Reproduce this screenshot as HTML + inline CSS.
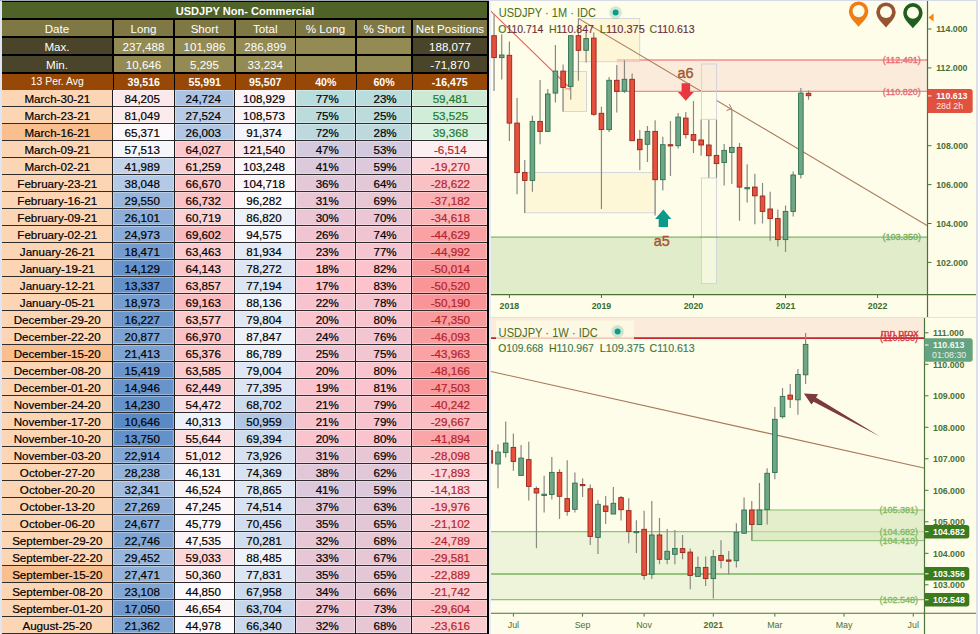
<!DOCTYPE html>
<html><head><meta charset="utf-8"><title>USDJPY COT</title>
<style>
html,body{margin:0;padding:0}
body{width:980px;height:634px;overflow:hidden;background:#dfe5f3;position:relative;font-family:"Liberation Sans", sans-serif}
.abs{position:absolute;box-sizing:border-box;white-space:nowrap;overflow:hidden}
#tbl{position:absolute;left:0;top:0;width:490px;height:634px}
.ttl{color:#fff;font-weight:bold;font-size:11.05px;text-align:center}
.hc{color:#fff;font-size:11.6px;text-align:center}
.ac{color:#fff;font-size:10.6px;font-weight:bold;text-align:center}
.ac0{font-weight:normal;font-size:10.4px}
.dd{font-size:11.8px}
.cc{box-shadow:inset 0 0 0 1.1px rgba(255,255,255,0.32)}
.dc{color:#000;font-size:11.6px;text-align:center;-webkit-text-stroke:0.2px}
.pos{color:#1c7a33}
.neg{color:#b3242c}
svg text{font-family:"Liberation Sans", sans-serif}
.ttl1{font-size:12.7px}
.ohlc{font-size:10.4px;stroke-width:0.15px}
.axl{font-size:8.8px;font-weight:bold}
.axl2{font-size:8.8px}
.lvl{font-size:9px;stroke-width:0.3px}
.tlb{font-size:8.8px;font-weight:bold}
.tlr{font-size:8.9px}
.ann{font-size:14.4px;fill:#a0552f;stroke:#a0552f;stroke-width:0.35px}
</style></head><body>
<div class="abs" style="left:0;top:0;width:490px;height:1px;background:#a4a9ba"></div>
<div class="abs" style="left:490px;top:0;width:488px;height:1px;background:#d5d9e8"></div>
<div class="abs" style="left:489px;top:0;width:2px;height:634px;background:#e6ebf7"></div>
<div id="tbl">
<div class="abs" style="left:1.8px;top:1px;width:487.2px;height:89px;background:#000"></div>
<div class="abs" style="left:2px;top:2px;width:485px;height:16px;background:#4f6228"></div>
<div class="abs ttl" style="left:2px;top:2px;width:486px;height:16px;line-height:18px">USDJPY Non- Commercial</div>
<div class="abs hc" style="left:2px;top:20px;width:110px;height:16px;line-height:17.2px;background:#7f7845">Date</div>
<div class="abs hc" style="left:114px;top:20px;width:59px;height:16px;line-height:17.2px;background:#7f7845">Long</div>
<div class="abs hc" style="left:175px;top:20px;width:59px;height:16px;line-height:17.2px;background:#7f7845">Short</div>
<div class="abs hc" style="left:236px;top:20px;width:58.5px;height:16px;line-height:17.2px;background:#7f7845">Total</div>
<div class="abs hc" style="left:296px;top:20px;width:59px;height:16px;line-height:17.2px;background:#7f7845">% Long</div>
<div class="abs hc" style="left:357px;top:20px;width:54px;height:16px;line-height:17.2px;background:#7f7845">% Short</div>
<div class="abs hc" style="left:413px;top:20px;width:74px;height:16px;line-height:17.2px;background:#7f7845">Net Positions</div>
<div class="abs hc" style="left:2px;top:38px;width:110px;height:16px;line-height:17.2px;background:#4a452a">Max.</div>
<div class="abs hc" style="left:114px;top:38px;width:59px;height:16px;line-height:17.2px;background:#948a54">237,488</div>
<div class="abs hc" style="left:175px;top:38px;width:59px;height:16px;line-height:17.2px;background:#948a54">101,986</div>
<div class="abs hc" style="left:236px;top:38px;width:58.5px;height:16px;line-height:17.2px;background:#948a54">286,899</div>
<div class="abs hc" style="left:296px;top:38px;width:59px;height:16px;line-height:17.2px;background:#948a54"></div>
<div class="abs hc" style="left:357px;top:38px;width:54px;height:16px;line-height:17.2px;background:#948a54"></div>
<div class="abs hc" style="left:413px;top:38px;width:74px;height:16px;line-height:17.2px;background:#4a452a">188,077</div>
<div class="abs hc" style="left:2px;top:56px;width:110px;height:16px;line-height:17.2px;background:#4a452a">Min.</div>
<div class="abs hc" style="left:114px;top:56px;width:59px;height:16px;line-height:17.2px;background:#948a54">10,646</div>
<div class="abs hc" style="left:175px;top:56px;width:59px;height:16px;line-height:17.2px;background:#948a54">5,295</div>
<div class="abs hc" style="left:236px;top:56px;width:58.5px;height:16px;line-height:17.2px;background:#948a54">33,234</div>
<div class="abs hc" style="left:296px;top:56px;width:59px;height:16px;line-height:17.2px;background:#948a54"></div>
<div class="abs hc" style="left:357px;top:56px;width:54px;height:16px;line-height:17.2px;background:#948a54"></div>
<div class="abs hc" style="left:413px;top:56px;width:74px;height:16px;line-height:17.2px;background:#4a452a">-71,870</div>
<div class="abs ac ac0" style="left:2px;top:73.5px;width:110.5px;height:16px;line-height:16px;background:#974706">13 Per. Avg</div>
<div class="abs ac" style="left:113.5px;top:73.5px;width:60.5px;height:16px;line-height:16px;background:#974706">39,516</div>
<div class="abs ac" style="left:175px;top:73.5px;width:59.5px;height:16px;line-height:16px;background:#974706">55,991</div>
<div class="abs ac" style="left:235.5px;top:73.5px;width:59.5px;height:16px;line-height:16px;background:#974706">95,507</div>
<div class="abs ac" style="left:296px;top:73.5px;width:59.5px;height:16px;line-height:16px;background:#974706">40%</div>
<div class="abs ac" style="left:356.5px;top:73.5px;width:55px;height:16px;line-height:16px;background:#974706">60%</div>
<div class="abs ac" style="left:412.5px;top:73.5px;width:74.5px;height:16px;line-height:16px;background:#974706">-16,475</div>
<div class="abs" style="left:2px;top:89.5px;width:485px;height:544.5px;background:#fff"></div>
<div class="abs dc dd" style="left:2px;top:89.7px;width:110.5px;height:16.3px;line-height:18.6px;background:#fcd5b4">March-30-21</div>
<div class="abs cc dc" style="left:113.4px;top:90.3px;width:60.5px;height:15.6px;line-height:18.2px;padding-right:2.8px;background:#fbe8eb">84,205</div>
<div class="abs cc dc" style="left:174.9px;top:90.3px;width:59.5px;height:15.6px;line-height:18.2px;padding-right:2.8px;background:#abc3e3">24,724</div>
<div class="abs cc dc" style="left:235.4px;top:90.3px;width:59.5px;height:15.6px;line-height:18.2px;padding-right:2.4px;background:#fcf3f6">108,929</div>
<div class="abs cc dc" style="left:295.9px;top:90.3px;width:59.5px;height:15.6px;line-height:18.2px;padding-left:3.2px;background:#b9dcdc">77%</div>
<div class="abs cc dc" style="left:356.4px;top:90.3px;width:55px;height:15.6px;line-height:18.2px;padding-left:2.4px;background:#b9dcdc">23%</div>
<div class="abs cc dc pos" style="left:412.4px;top:90.3px;width:74.8px;height:15.6px;line-height:18.2px;padding-left:1.2px;background:#ccead3">59,481</div>
<div class="abs" style="left:2px;top:105.5px;width:485px;height:1.3px;background:#2e2c2c"></div>
<div class="abs dc dd" style="left:2px;top:106.7px;width:110.5px;height:16.3px;line-height:18.6px;background:#fcd5b4">March-23-21</div>
<div class="abs cc dc" style="left:113.4px;top:107.3px;width:60.5px;height:15.6px;line-height:18.2px;padding-right:2.8px;background:#fcebed">81,049</div>
<div class="abs cc dc" style="left:174.9px;top:107.3px;width:59.5px;height:15.6px;line-height:18.2px;padding-right:2.8px;background:#b7cbe7">27,524</div>
<div class="abs cc dc" style="left:235.4px;top:107.3px;width:59.5px;height:15.6px;line-height:18.2px;padding-right:2.4px;background:#fcf3f6">108,573</div>
<div class="abs cc dc" style="left:295.9px;top:107.3px;width:59.5px;height:15.6px;line-height:18.2px;padding-left:3.2px;background:#bbdbdc">75%</div>
<div class="abs cc dc" style="left:356.4px;top:107.3px;width:55px;height:15.6px;line-height:18.2px;padding-left:2.4px;background:#bbdbdc">25%</div>
<div class="abs cc dc pos" style="left:412.4px;top:107.3px;width:74.8px;height:15.6px;line-height:18.2px;padding-left:1.2px;background:#d0edd7">53,525</div>
<div class="abs" style="left:2px;top:122.5px;width:485px;height:1.3px;background:#2e2c2c"></div>
<div class="abs dc dd" style="left:2px;top:123.7px;width:110.5px;height:16.3px;line-height:18.6px;background:#fabf8f">March-16-21</div>
<div class="abs cc dc" style="left:113.4px;top:124.3px;width:60.5px;height:15.6px;line-height:18.2px;padding-right:2.8px;background:#fcf8fb">65,371</div>
<div class="abs cc dc" style="left:174.9px;top:124.3px;width:59.5px;height:15.6px;line-height:18.2px;padding-right:2.8px;background:#b1c7e4">26,003</div>
<div class="abs cc dc" style="left:235.4px;top:124.3px;width:59.5px;height:15.6px;line-height:18.2px;padding-right:2.4px;background:#f3f5fc">91,374</div>
<div class="abs cc dc" style="left:295.9px;top:124.3px;width:59.5px;height:15.6px;line-height:18.2px;padding-left:3.2px;background:#bdd9dd">72%</div>
<div class="abs cc dc" style="left:356.4px;top:124.3px;width:55px;height:15.6px;line-height:18.2px;padding-left:2.4px;background:#bdd9dd">28%</div>
<div class="abs cc dc pos" style="left:412.4px;top:124.3px;width:74.8px;height:15.6px;line-height:18.2px;padding-left:1.2px;background:#dcf1e1">39,368</div>
<div class="abs" style="left:2px;top:139.5px;width:485px;height:1.3px;background:#2e2c2c"></div>
<div class="abs dc dd" style="left:2px;top:140.7px;width:110.5px;height:16.3px;line-height:18.6px;background:#fcd5b4">March-09-21</div>
<div class="abs cc dc" style="left:113.4px;top:141.3px;width:60.5px;height:15.6px;line-height:18.2px;padding-right:2.8px;background:#f4f6fc">57,513</div>
<div class="abs cc dc" style="left:174.9px;top:141.3px;width:59.5px;height:15.6px;line-height:18.2px;padding-right:2.8px;background:#fbc9cc">64,027</div>
<div class="abs cc dc" style="left:235.4px;top:141.3px;width:59.5px;height:15.6px;line-height:18.2px;padding-right:2.4px;background:#fbe9ec">121,540</div>
<div class="abs cc dc" style="left:295.9px;top:141.3px;width:59.5px;height:15.6px;line-height:18.2px;padding-left:3.2px;background:#d3cade">47%</div>
<div class="abs cc dc" style="left:356.4px;top:141.3px;width:55px;height:15.6px;line-height:18.2px;padding-left:2.4px;background:#d3cade">53%</div>
<div class="abs cc dc neg" style="left:412.4px;top:141.3px;width:74.8px;height:15.6px;line-height:18.2px;padding-left:1.2px;background:#fceff2">-6,514</div>
<div class="abs" style="left:2px;top:156.5px;width:485px;height:1.3px;background:#2e2c2c"></div>
<div class="abs dc dd" style="left:2px;top:157.7px;width:110.5px;height:16.3px;line-height:18.6px;background:#fcd5b4">March-02-21</div>
<div class="abs cc dc" style="left:113.4px;top:158.3px;width:60.5px;height:15.6px;line-height:18.2px;padding-right:2.8px;background:#c1d2ea">41,989</div>
<div class="abs cc dc" style="left:174.9px;top:158.3px;width:59.5px;height:15.6px;line-height:18.2px;padding-right:2.8px;background:#fbd0d3">61,259</div>
<div class="abs cc dc" style="left:235.4px;top:158.3px;width:59.5px;height:15.6px;line-height:18.2px;padding-right:2.4px;background:#fcf7fa">103,248</div>
<div class="abs cc dc" style="left:295.9px;top:158.3px;width:59.5px;height:15.6px;line-height:18.2px;padding-left:3.2px;background:#dcc9db">41%</div>
<div class="abs cc dc" style="left:356.4px;top:158.3px;width:55px;height:15.6px;line-height:18.2px;padding-left:2.4px;background:#dcc9db">59%</div>
<div class="abs cc dc neg" style="left:412.4px;top:158.3px;width:74.8px;height:15.6px;line-height:18.2px;padding-left:1.2px;background:#fbd5d7">-19,270</div>
<div class="abs" style="left:2px;top:173.5px;width:485px;height:1.3px;background:#2e2c2c"></div>
<div class="abs dc dd" style="left:2px;top:174.7px;width:110.5px;height:16.3px;line-height:18.6px;background:#fcd5b4">February-23-21</div>
<div class="abs cc dc" style="left:113.4px;top:175.3px;width:60.5px;height:15.6px;line-height:18.2px;padding-right:2.8px;background:#b4c9e6">38,048</div>
<div class="abs cc dc" style="left:174.9px;top:175.3px;width:59.5px;height:15.6px;line-height:18.2px;padding-right:2.8px;background:#fac3c5">66,670</div>
<div class="abs cc dc" style="left:235.4px;top:175.3px;width:59.5px;height:15.6px;line-height:18.2px;padding-right:2.4px;background:#fcf6f9">104,718</div>
<div class="abs cc dc" style="left:295.9px;top:175.3px;width:59.5px;height:15.6px;line-height:18.2px;padding-left:3.2px;background:#e3c8d8">36%</div>
<div class="abs cc dc" style="left:356.4px;top:175.3px;width:55px;height:15.6px;line-height:18.2px;padding-left:2.4px;background:#e3c8d8">64%</div>
<div class="abs cc dc neg" style="left:412.4px;top:175.3px;width:74.8px;height:15.6px;line-height:18.2px;padding-left:1.2px;background:#fac1c4">-28,622</div>
<div class="abs" style="left:2px;top:190.5px;width:485px;height:1.3px;background:#2e2c2c"></div>
<div class="abs dc dd" style="left:2px;top:191.7px;width:110.5px;height:16.3px;line-height:18.6px;background:#fcd5b4">February-16-21</div>
<div class="abs cc dc" style="left:113.4px;top:192.3px;width:60.5px;height:15.6px;line-height:18.2px;padding-right:2.8px;background:#98b6dc">29,550</div>
<div class="abs cc dc" style="left:174.9px;top:192.3px;width:59.5px;height:15.6px;line-height:18.2px;padding-right:2.8px;background:#fac2c5">66,732</div>
<div class="abs cc dc" style="left:235.4px;top:192.3px;width:59.5px;height:15.6px;line-height:18.2px;padding-right:2.4px;background:#fbfbff">96,282</div>
<div class="abs cc dc" style="left:295.9px;top:192.3px;width:59.5px;height:15.6px;line-height:18.2px;padding-left:3.2px;background:#e9c6d4">31%</div>
<div class="abs cc dc" style="left:356.4px;top:192.3px;width:55px;height:15.6px;line-height:18.2px;padding-left:2.4px;background:#e9c6d4">69%</div>
<div class="abs cc dc neg" style="left:412.4px;top:192.3px;width:74.8px;height:15.6px;line-height:18.2px;padding-left:1.2px;background:#fab0b2">-37,182</div>
<div class="abs" style="left:2px;top:207.5px;width:485px;height:1.3px;background:#2e2c2c"></div>
<div class="abs dc dd" style="left:2px;top:208.7px;width:110.5px;height:16.3px;line-height:18.6px;background:#fcd5b4">February-09-21</div>
<div class="abs cc dc" style="left:113.4px;top:209.3px;width:60.5px;height:15.6px;line-height:18.2px;padding-right:2.8px;background:#8daed8">26,101</div>
<div class="abs cc dc" style="left:174.9px;top:209.3px;width:59.5px;height:15.6px;line-height:18.2px;padding-right:2.8px;background:#fbd2d4">60,719</div>
<div class="abs cc dc" style="left:235.4px;top:209.3px;width:59.5px;height:15.6px;line-height:18.2px;padding-right:2.4px;background:#ebf0f9">86,820</div>
<div class="abs cc dc" style="left:295.9px;top:209.3px;width:59.5px;height:15.6px;line-height:18.2px;padding-left:3.2px;background:#ebc6d4">30%</div>
<div class="abs cc dc" style="left:356.4px;top:209.3px;width:55px;height:15.6px;line-height:18.2px;padding-left:2.4px;background:#ebc6d4">70%</div>
<div class="abs cc dc neg" style="left:412.4px;top:209.3px;width:74.8px;height:15.6px;line-height:18.2px;padding-left:1.2px;background:#fab5b8">-34,618</div>
<div class="abs" style="left:2px;top:224.5px;width:485px;height:1.3px;background:#2e2c2c"></div>
<div class="abs dc dd" style="left:2px;top:225.7px;width:110.5px;height:16.3px;line-height:18.6px;background:#fcd5b4">February-02-21</div>
<div class="abs cc dc" style="left:113.4px;top:226.3px;width:60.5px;height:15.6px;line-height:18.2px;padding-right:2.8px;background:#89abd7">24,973</div>
<div class="abs cc dc" style="left:174.9px;top:226.3px;width:59.5px;height:15.6px;line-height:18.2px;padding-right:2.8px;background:#fabbbe">69,602</div>
<div class="abs cc dc" style="left:235.4px;top:226.3px;width:59.5px;height:15.6px;line-height:18.2px;padding-right:2.4px;background:#f8f9fe">94,575</div>
<div class="abs cc dc" style="left:295.9px;top:226.3px;width:59.5px;height:15.6px;line-height:18.2px;padding-left:3.2px;background:#f0c5d1">26%</div>
<div class="abs cc dc" style="left:356.4px;top:226.3px;width:55px;height:15.6px;line-height:18.2px;padding-left:2.4px;background:#f0c5d1">74%</div>
<div class="abs cc dc neg" style="left:412.4px;top:226.3px;width:74.8px;height:15.6px;line-height:18.2px;padding-left:1.2px;background:#faa1a3">-44,629</div>
<div class="abs" style="left:2px;top:241.5px;width:485px;height:1.3px;background:#2e2c2c"></div>
<div class="abs dc dd" style="left:2px;top:242.7px;width:110.5px;height:16.3px;line-height:18.6px;background:#fcd5b4">January-26-21</div>
<div class="abs cc dc" style="left:113.4px;top:243.3px;width:60.5px;height:15.6px;line-height:18.2px;padding-right:2.8px;background:#749ccf">18,471</div>
<div class="abs cc dc" style="left:174.9px;top:243.3px;width:59.5px;height:15.6px;line-height:18.2px;padding-right:2.8px;background:#fbcbcd">63,463</div>
<div class="abs cc dc" style="left:235.4px;top:243.3px;width:59.5px;height:15.6px;line-height:18.2px;padding-right:2.4px;background:#e3eaf6">81,934</div>
<div class="abs cc dc" style="left:295.9px;top:243.3px;width:59.5px;height:15.6px;line-height:18.2px;padding-left:3.2px;background:#f5c4d0">23%</div>
<div class="abs cc dc" style="left:356.4px;top:243.3px;width:55px;height:15.6px;line-height:18.2px;padding-left:2.4px;background:#f5c4d0">77%</div>
<div class="abs cc dc neg" style="left:412.4px;top:243.3px;width:74.8px;height:15.6px;line-height:18.2px;padding-left:1.2px;background:#f9a0a2">-44,992</div>
<div class="abs" style="left:2px;top:258.5px;width:485px;height:1.3px;background:#2e2c2c"></div>
<div class="abs dc dd" style="left:2px;top:259.7px;width:110.5px;height:16.3px;line-height:18.6px;background:#fcd5b4">January-19-21</div>
<div class="abs cc dc" style="left:113.4px;top:260.3px;width:60.5px;height:15.6px;line-height:18.2px;padding-right:2.8px;background:#6592ca">14,129</div>
<div class="abs cc dc" style="left:174.9px;top:260.3px;width:59.5px;height:15.6px;line-height:18.2px;padding-right:2.8px;background:#fbc9cc">64,143</div>
<div class="abs cc dc" style="left:235.4px;top:260.3px;width:59.5px;height:15.6px;line-height:18.2px;padding-right:2.4px;background:#dde6f4">78,272</div>
<div class="abs cc dc" style="left:295.9px;top:260.3px;width:59.5px;height:15.6px;line-height:18.2px;padding-left:3.2px;background:#fcc3cd">18%</div>
<div class="abs cc dc" style="left:356.4px;top:260.3px;width:55px;height:15.6px;line-height:18.2px;padding-left:2.4px;background:#fcc3cd">82%</div>
<div class="abs cc dc neg" style="left:412.4px;top:260.3px;width:74.8px;height:15.6px;line-height:18.2px;padding-left:1.2px;background:#f99698">-50,014</div>
<div class="abs" style="left:2px;top:275.5px;width:485px;height:1.3px;background:#2e2c2c"></div>
<div class="abs dc dd" style="left:2px;top:276.7px;width:110.5px;height:16.3px;line-height:18.6px;background:#fcd5b4">January-12-21</div>
<div class="abs cc dc" style="left:113.4px;top:277.3px;width:60.5px;height:15.6px;line-height:18.2px;padding-right:2.8px;background:#6390c9">13,337</div>
<div class="abs cc dc" style="left:174.9px;top:277.3px;width:59.5px;height:15.6px;line-height:18.2px;padding-right:2.8px;background:#fbcacc">63,857</div>
<div class="abs cc dc" style="left:235.4px;top:277.3px;width:59.5px;height:15.6px;line-height:18.2px;padding-right:2.4px;background:#dbe5f3">77,194</div>
<div class="abs cc dc" style="left:295.9px;top:277.3px;width:59.5px;height:15.6px;line-height:18.2px;padding-left:3.2px;background:#fdc3cc">17%</div>
<div class="abs cc dc" style="left:356.4px;top:277.3px;width:55px;height:15.6px;line-height:18.2px;padding-left:2.4px;background:#fdc3cc">83%</div>
<div class="abs cc dc neg" style="left:412.4px;top:277.3px;width:74.8px;height:15.6px;line-height:18.2px;padding-left:1.2px;background:#f99597">-50,520</div>
<div class="abs" style="left:2px;top:292.5px;width:485px;height:1.3px;background:#2e2c2c"></div>
<div class="abs dc dd" style="left:2px;top:293.7px;width:110.5px;height:16.3px;line-height:18.6px;background:#fcd5b4">January-05-21</div>
<div class="abs cc dc" style="left:113.4px;top:294.3px;width:60.5px;height:15.6px;line-height:18.2px;padding-right:2.8px;background:#759dd0">18,973</div>
<div class="abs cc dc" style="left:174.9px;top:294.3px;width:59.5px;height:15.6px;line-height:18.2px;padding-right:2.8px;background:#fabcbf">69,163</div>
<div class="abs cc dc" style="left:235.4px;top:294.3px;width:59.5px;height:15.6px;line-height:18.2px;padding-right:2.4px;background:#edf2fa">88,136</div>
<div class="abs cc dc" style="left:295.9px;top:294.3px;width:59.5px;height:15.6px;line-height:18.2px;padding-left:3.2px;background:#f6c4cf">22%</div>
<div class="abs cc dc" style="left:356.4px;top:294.3px;width:55px;height:15.6px;line-height:18.2px;padding-left:2.4px;background:#f6c4cf">78%</div>
<div class="abs cc dc neg" style="left:412.4px;top:294.3px;width:74.8px;height:15.6px;line-height:18.2px;padding-left:1.2px;background:#f99598">-50,190</div>
<div class="abs" style="left:2px;top:309.5px;width:485px;height:1.3px;background:#2e2c2c"></div>
<div class="abs dc dd" style="left:2px;top:310.7px;width:110.5px;height:16.3px;line-height:18.6px;background:#fcd5b4">December-29-20</div>
<div class="abs cc dc" style="left:113.4px;top:311.3px;width:60.5px;height:15.6px;line-height:18.2px;padding-right:2.8px;background:#6c97cc">16,227</div>
<div class="abs cc dc" style="left:174.9px;top:311.3px;width:59.5px;height:15.6px;line-height:18.2px;padding-right:2.8px;background:#fbcacd">63,577</div>
<div class="abs cc dc" style="left:235.4px;top:311.3px;width:59.5px;height:15.6px;line-height:18.2px;padding-right:2.4px;background:#e0e8f5">79,804</div>
<div class="abs cc dc" style="left:295.9px;top:311.3px;width:59.5px;height:15.6px;line-height:18.2px;padding-left:3.2px;background:#f9c4ce">20%</div>
<div class="abs cc dc" style="left:356.4px;top:311.3px;width:55px;height:15.6px;line-height:18.2px;padding-left:2.4px;background:#f9c4ce">80%</div>
<div class="abs cc dc neg" style="left:412.4px;top:311.3px;width:74.8px;height:15.6px;line-height:18.2px;padding-left:1.2px;background:#f99b9d">-47,350</div>
<div class="abs" style="left:2px;top:326.5px;width:485px;height:1.3px;background:#2e2c2c"></div>
<div class="abs dc dd" style="left:2px;top:327.7px;width:110.5px;height:16.3px;line-height:18.6px;background:#fcd5b4">December-22-20</div>
<div class="abs cc dc" style="left:113.4px;top:328.3px;width:60.5px;height:15.6px;line-height:18.2px;padding-right:2.8px;background:#7ca2d2">20,877</div>
<div class="abs cc dc" style="left:174.9px;top:328.3px;width:59.5px;height:15.6px;line-height:18.2px;padding-right:2.8px;background:#fac2c4">66,970</div>
<div class="abs cc dc" style="left:235.4px;top:328.3px;width:59.5px;height:15.6px;line-height:18.2px;padding-right:2.4px;background:#edf1fa">87,847</div>
<div class="abs cc dc" style="left:295.9px;top:328.3px;width:59.5px;height:15.6px;line-height:18.2px;padding-left:3.2px;background:#f3c5d0">24%</div>
<div class="abs cc dc" style="left:356.4px;top:328.3px;width:55px;height:15.6px;line-height:18.2px;padding-left:2.4px;background:#f3c5d0">76%</div>
<div class="abs cc dc neg" style="left:412.4px;top:328.3px;width:74.8px;height:15.6px;line-height:18.2px;padding-left:1.2px;background:#f99ea0">-46,093</div>
<div class="abs" style="left:2px;top:343.5px;width:485px;height:1.3px;background:#2e2c2c"></div>
<div class="abs dc dd" style="left:2px;top:344.7px;width:110.5px;height:16.3px;line-height:18.6px;background:#fabf8f">December-15-20</div>
<div class="abs cc dc" style="left:113.4px;top:345.3px;width:60.5px;height:15.6px;line-height:18.2px;padding-right:2.8px;background:#7da3d2">21,413</div>
<div class="abs cc dc" style="left:174.9px;top:345.3px;width:59.5px;height:15.6px;line-height:18.2px;padding-right:2.8px;background:#fbc6c8">65,376</div>
<div class="abs cc dc" style="left:235.4px;top:345.3px;width:59.5px;height:15.6px;line-height:18.2px;padding-right:2.4px;background:#ebf0f9">86,789</div>
<div class="abs cc dc" style="left:295.9px;top:345.3px;width:59.5px;height:15.6px;line-height:18.2px;padding-left:3.2px;background:#f2c5d1">25%</div>
<div class="abs cc dc" style="left:356.4px;top:345.3px;width:55px;height:15.6px;line-height:18.2px;padding-left:2.4px;background:#f2c5d1">75%</div>
<div class="abs cc dc neg" style="left:412.4px;top:345.3px;width:74.8px;height:15.6px;line-height:18.2px;padding-left:1.2px;background:#faa2a4">-43,963</div>
<div class="abs" style="left:2px;top:360.5px;width:485px;height:1.3px;background:#2e2c2c"></div>
<div class="abs dc dd" style="left:2px;top:361.7px;width:110.5px;height:16.3px;line-height:18.6px;background:#fcd5b4">December-08-20</div>
<div class="abs cc dc" style="left:113.4px;top:362.3px;width:60.5px;height:15.6px;line-height:18.2px;padding-right:2.8px;background:#6a95cc">15,419</div>
<div class="abs cc dc" style="left:174.9px;top:362.3px;width:59.5px;height:15.6px;line-height:18.2px;padding-right:2.8px;background:#fbcacd">63,585</div>
<div class="abs cc dc" style="left:235.4px;top:362.3px;width:59.5px;height:15.6px;line-height:18.2px;padding-right:2.4px;background:#dee7f5">79,004</div>
<div class="abs cc dc" style="left:295.9px;top:362.3px;width:59.5px;height:15.6px;line-height:18.2px;padding-left:3.2px;background:#f9c4ce">20%</div>
<div class="abs cc dc" style="left:356.4px;top:362.3px;width:55px;height:15.6px;line-height:18.2px;padding-left:2.4px;background:#f9c4ce">80%</div>
<div class="abs cc dc neg" style="left:412.4px;top:362.3px;width:74.8px;height:15.6px;line-height:18.2px;padding-left:1.2px;background:#f9999c">-48,166</div>
<div class="abs" style="left:2px;top:377.5px;width:485px;height:1.3px;background:#2e2c2c"></div>
<div class="abs dc dd" style="left:2px;top:378.7px;width:110.5px;height:16.3px;line-height:18.6px;background:#fcd5b4">December-01-20</div>
<div class="abs cc dc" style="left:113.4px;top:379.3px;width:60.5px;height:15.6px;line-height:18.2px;padding-right:2.8px;background:#6894cb">14,946</div>
<div class="abs cc dc" style="left:174.9px;top:379.3px;width:59.5px;height:15.6px;line-height:18.2px;padding-right:2.8px;background:#fbcdd0">62,449</div>
<div class="abs cc dc" style="left:235.4px;top:379.3px;width:59.5px;height:15.6px;line-height:18.2px;padding-right:2.4px;background:#dce5f4">77,395</div>
<div class="abs cc dc" style="left:295.9px;top:379.3px;width:59.5px;height:15.6px;line-height:18.2px;padding-left:3.2px;background:#fac3cd">19%</div>
<div class="abs cc dc" style="left:356.4px;top:379.3px;width:55px;height:15.6px;line-height:18.2px;padding-left:2.4px;background:#fac3cd">81%</div>
<div class="abs cc dc neg" style="left:412.4px;top:379.3px;width:74.8px;height:15.6px;line-height:18.2px;padding-left:1.2px;background:#f99b9d">-47,503</div>
<div class="abs" style="left:2px;top:394.5px;width:485px;height:1.3px;background:#2e2c2c"></div>
<div class="abs dc dd" style="left:2px;top:395.7px;width:110.5px;height:16.3px;line-height:18.6px;background:#fcd5b4">November-24-20</div>
<div class="abs cc dc" style="left:113.4px;top:396.3px;width:60.5px;height:15.6px;line-height:18.2px;padding-right:2.8px;background:#6692ca">14,230</div>
<div class="abs cc dc" style="left:174.9px;top:396.3px;width:59.5px;height:15.6px;line-height:18.2px;padding-right:2.8px;background:#fbe1e4">54,472</div>
<div class="abs cc dc" style="left:235.4px;top:396.3px;width:59.5px;height:15.6px;line-height:18.2px;padding-right:2.4px;background:#cddbef">68,702</div>
<div class="abs cc dc" style="left:295.9px;top:396.3px;width:59.5px;height:15.6px;line-height:18.2px;padding-left:3.2px;background:#f7c4ce">21%</div>
<div class="abs cc dc" style="left:356.4px;top:396.3px;width:55px;height:15.6px;line-height:18.2px;padding-left:2.4px;background:#f7c4ce">79%</div>
<div class="abs cc dc neg" style="left:412.4px;top:396.3px;width:74.8px;height:15.6px;line-height:18.2px;padding-left:1.2px;background:#faaaac">-40,242</div>
<div class="abs" style="left:2px;top:411.5px;width:485px;height:1.3px;background:#2e2c2c"></div>
<div class="abs dc dd" style="left:2px;top:412.7px;width:110.5px;height:16.3px;line-height:18.6px;background:#fcd5b4">November-17-20</div>
<div class="abs cc dc" style="left:113.4px;top:413.3px;width:60.5px;height:15.6px;line-height:18.2px;padding-right:2.8px;background:#5a8ac6">10,646</div>
<div class="abs cc dc" style="left:174.9px;top:413.3px;width:59.5px;height:15.6px;line-height:18.2px;padding-right:2.8px;background:#edf1fa">40,313</div>
<div class="abs cc dc" style="left:235.4px;top:413.3px;width:59.5px;height:15.6px;line-height:18.2px;padding-right:2.4px;background:#b0c6e4">50,959</div>
<div class="abs cc dc" style="left:295.9px;top:413.3px;width:59.5px;height:15.6px;line-height:18.2px;padding-left:3.2px;background:#f7c4ce">21%</div>
<div class="abs cc dc" style="left:356.4px;top:413.3px;width:55px;height:15.6px;line-height:18.2px;padding-left:2.4px;background:#f7c4ce">79%</div>
<div class="abs cc dc neg" style="left:412.4px;top:413.3px;width:74.8px;height:15.6px;line-height:18.2px;padding-left:1.2px;background:#fabfc2">-29,667</div>
<div class="abs" style="left:2px;top:428.5px;width:485px;height:1.3px;background:#2e2c2c"></div>
<div class="abs dc dd" style="left:2px;top:429.7px;width:110.5px;height:16.3px;line-height:18.6px;background:#fcd5b4">November-10-20</div>
<div class="abs cc dc" style="left:113.4px;top:430.3px;width:60.5px;height:15.6px;line-height:18.2px;padding-right:2.8px;background:#6491ca">13,750</div>
<div class="abs cc dc" style="left:174.9px;top:430.3px;width:59.5px;height:15.6px;line-height:18.2px;padding-right:2.8px;background:#fbdee1">55,644</div>
<div class="abs cc dc" style="left:235.4px;top:430.3px;width:59.5px;height:15.6px;line-height:18.2px;padding-right:2.4px;background:#cedcef">69,394</div>
<div class="abs cc dc" style="left:295.9px;top:430.3px;width:59.5px;height:15.6px;line-height:18.2px;padding-left:3.2px;background:#f9c4ce">20%</div>
<div class="abs cc dc" style="left:356.4px;top:430.3px;width:55px;height:15.6px;line-height:18.2px;padding-left:2.4px;background:#f9c4ce">80%</div>
<div class="abs cc dc neg" style="left:412.4px;top:430.3px;width:74.8px;height:15.6px;line-height:18.2px;padding-left:1.2px;background:#faa6a9">-41,894</div>
<div class="abs" style="left:2px;top:445.5px;width:485px;height:1.3px;background:#2e2c2c"></div>
<div class="abs dc dd" style="left:2px;top:446.7px;width:110.5px;height:16.3px;line-height:18.6px;background:#fcd5b4">November-03-20</div>
<div class="abs cc dc" style="left:113.4px;top:447.3px;width:60.5px;height:15.6px;line-height:18.2px;padding-right:2.8px;background:#82a6d4">22,914</div>
<div class="abs cc dc" style="left:174.9px;top:447.3px;width:59.5px;height:15.6px;line-height:18.2px;padding-right:2.8px;background:#fceaed">51,012</div>
<div class="abs cc dc" style="left:235.4px;top:447.3px;width:59.5px;height:15.6px;line-height:18.2px;padding-right:2.4px;background:#d6e1f2">73,926</div>
<div class="abs cc dc" style="left:295.9px;top:447.3px;width:59.5px;height:15.6px;line-height:18.2px;padding-left:3.2px;background:#e9c6d4">31%</div>
<div class="abs cc dc" style="left:356.4px;top:447.3px;width:55px;height:15.6px;line-height:18.2px;padding-left:2.4px;background:#e9c6d4">69%</div>
<div class="abs cc dc neg" style="left:412.4px;top:447.3px;width:74.8px;height:15.6px;line-height:18.2px;padding-left:1.2px;background:#fac3c5">-28,098</div>
<div class="abs" style="left:2px;top:462.5px;width:485px;height:1.3px;background:#2e2c2c"></div>
<div class="abs dc dd" style="left:2px;top:463.7px;width:110.5px;height:16.3px;line-height:18.6px;background:#fcd5b4">October-27-20</div>
<div class="abs cc dc" style="left:113.4px;top:464.3px;width:60.5px;height:15.6px;line-height:18.2px;padding-right:2.8px;background:#94b3da">28,238</div>
<div class="abs cc dc" style="left:174.9px;top:464.3px;width:59.5px;height:15.6px;line-height:18.2px;padding-right:2.8px;background:#fcf7fa">46,131</div>
<div class="abs cc dc" style="left:235.4px;top:464.3px;width:59.5px;height:15.6px;line-height:18.2px;padding-right:2.4px;background:#d7e2f2">74,369</div>
<div class="abs cc dc" style="left:295.9px;top:464.3px;width:59.5px;height:15.6px;line-height:18.2px;padding-left:3.2px;background:#e0c8d9">38%</div>
<div class="abs cc dc" style="left:356.4px;top:464.3px;width:55px;height:15.6px;line-height:18.2px;padding-left:2.4px;background:#e0c8d9">62%</div>
<div class="abs cc dc neg" style="left:412.4px;top:464.3px;width:74.8px;height:15.6px;line-height:18.2px;padding-left:1.2px;background:#fbd7da">-17,893</div>
<div class="abs" style="left:2px;top:479.5px;width:485px;height:1.3px;background:#2e2c2c"></div>
<div class="abs dc dd" style="left:2px;top:480.7px;width:110.5px;height:16.3px;line-height:18.6px;background:#fcd5b4">October-20-20</div>
<div class="abs cc dc" style="left:113.4px;top:481.3px;width:60.5px;height:15.6px;line-height:18.2px;padding-right:2.8px;background:#a1bcdf">32,341</div>
<div class="abs cc dc" style="left:174.9px;top:481.3px;width:59.5px;height:15.6px;line-height:18.2px;padding-right:2.8px;background:#fcf6f9">46,524</div>
<div class="abs cc dc" style="left:235.4px;top:481.3px;width:59.5px;height:15.6px;line-height:18.2px;padding-right:2.4px;background:#dee7f4">78,865</div>
<div class="abs cc dc" style="left:295.9px;top:481.3px;width:59.5px;height:15.6px;line-height:18.2px;padding-left:3.2px;background:#dcc9db">41%</div>
<div class="abs cc dc" style="left:356.4px;top:481.3px;width:55px;height:15.6px;line-height:18.2px;padding-left:2.4px;background:#dcc9db">59%</div>
<div class="abs cc dc neg" style="left:412.4px;top:481.3px;width:74.8px;height:15.6px;line-height:18.2px;padding-left:1.2px;background:#fbdfe2">-14,183</div>
<div class="abs" style="left:2px;top:496.5px;width:485px;height:1.3px;background:#2e2c2c"></div>
<div class="abs dc dd" style="left:2px;top:497.7px;width:110.5px;height:16.3px;line-height:18.6px;background:#fcd5b4">October-13-20</div>
<div class="abs cc dc" style="left:113.4px;top:498.3px;width:60.5px;height:15.6px;line-height:18.2px;padding-right:2.8px;background:#91b0d9">27,269</div>
<div class="abs cc dc" style="left:174.9px;top:498.3px;width:59.5px;height:15.6px;line-height:18.2px;padding-right:2.8px;background:#fcf4f7">47,245</div>
<div class="abs cc dc" style="left:235.4px;top:498.3px;width:59.5px;height:15.6px;line-height:18.2px;padding-right:2.4px;background:#d7e2f2">74,514</div>
<div class="abs cc dc" style="left:295.9px;top:498.3px;width:59.5px;height:15.6px;line-height:18.2px;padding-left:3.2px;background:#e1c8d8">37%</div>
<div class="abs cc dc" style="left:356.4px;top:498.3px;width:55px;height:15.6px;line-height:18.2px;padding-left:2.4px;background:#e1c8d8">63%</div>
<div class="abs cc dc neg" style="left:412.4px;top:498.3px;width:74.8px;height:15.6px;line-height:18.2px;padding-left:1.2px;background:#fbd3d6">-19,976</div>
<div class="abs" style="left:2px;top:513.5px;width:485px;height:1.3px;background:#2e2c2c"></div>
<div class="abs dc dd" style="left:2px;top:514.7px;width:110.5px;height:16.3px;line-height:18.6px;background:#fcd5b4">October-06-20</div>
<div class="abs cc dc" style="left:113.4px;top:515.3px;width:60.5px;height:15.6px;line-height:18.2px;padding-right:2.8px;background:#88aad6">24,677</div>
<div class="abs cc dc" style="left:174.9px;top:515.3px;width:59.5px;height:15.6px;line-height:18.2px;padding-right:2.8px;background:#fcf7fa">45,779</div>
<div class="abs cc dc" style="left:235.4px;top:515.3px;width:59.5px;height:15.6px;line-height:18.2px;padding-right:2.4px;background:#d0ddf0">70,456</div>
<div class="abs cc dc" style="left:295.9px;top:515.3px;width:59.5px;height:15.6px;line-height:18.2px;padding-left:3.2px;background:#e4c7d7">35%</div>
<div class="abs cc dc" style="left:356.4px;top:515.3px;width:55px;height:15.6px;line-height:18.2px;padding-left:2.4px;background:#e4c7d7">65%</div>
<div class="abs cc dc neg" style="left:412.4px;top:515.3px;width:74.8px;height:15.6px;line-height:18.2px;padding-left:1.2px;background:#fbd1d4">-21,102</div>
<div class="abs" style="left:2px;top:530.5px;width:485px;height:1.3px;background:#2e2c2c"></div>
<div class="abs dc dd" style="left:2px;top:531.7px;width:110.5px;height:16.3px;line-height:18.6px;background:#fcd5b4">September-29-20</div>
<div class="abs cc dc" style="left:113.4px;top:532.3px;width:60.5px;height:15.6px;line-height:18.2px;padding-right:2.8px;background:#82a6d4">22,746</div>
<div class="abs cc dc" style="left:174.9px;top:532.3px;width:59.5px;height:15.6px;line-height:18.2px;padding-right:2.8px;background:#fcf3f6">47,535</div>
<div class="abs cc dc" style="left:235.4px;top:532.3px;width:59.5px;height:15.6px;line-height:18.2px;padding-right:2.4px;background:#d0ddef">70,281</div>
<div class="abs cc dc" style="left:295.9px;top:532.3px;width:59.5px;height:15.6px;line-height:18.2px;padding-left:3.2px;background:#e8c7d5">32%</div>
<div class="abs cc dc" style="left:356.4px;top:532.3px;width:55px;height:15.6px;line-height:18.2px;padding-left:2.4px;background:#e8c7d5">68%</div>
<div class="abs cc dc neg" style="left:412.4px;top:532.3px;width:74.8px;height:15.6px;line-height:18.2px;padding-left:1.2px;background:#fbc9cc">-24,789</div>
<div class="abs" style="left:2px;top:547.5px;width:485px;height:1.3px;background:#2e2c2c"></div>
<div class="abs dc dd" style="left:2px;top:548.7px;width:110.5px;height:16.3px;line-height:18.6px;background:#fcd5b4">September-22-20</div>
<div class="abs cc dc" style="left:113.4px;top:549.3px;width:60.5px;height:15.6px;line-height:18.2px;padding-right:2.8px;background:#98b5dc">29,452</div>
<div class="abs cc dc" style="left:174.9px;top:549.3px;width:59.5px;height:15.6px;line-height:18.2px;padding-right:2.8px;background:#fbd6d9">59,033</div>
<div class="abs cc dc" style="left:235.4px;top:549.3px;width:59.5px;height:15.6px;line-height:18.2px;padding-right:2.4px;background:#eef2fa">88,485</div>
<div class="abs cc dc" style="left:295.9px;top:549.3px;width:59.5px;height:15.6px;line-height:18.2px;padding-left:3.2px;background:#e7c7d6">33%</div>
<div class="abs cc dc" style="left:356.4px;top:549.3px;width:55px;height:15.6px;line-height:18.2px;padding-left:2.4px;background:#e7c7d6">67%</div>
<div class="abs cc dc neg" style="left:412.4px;top:549.3px;width:74.8px;height:15.6px;line-height:18.2px;padding-left:1.2px;background:#fabfc2">-29,581</div>
<div class="abs" style="left:2px;top:564.5px;width:485px;height:1.3px;background:#2e2c2c"></div>
<div class="abs dc dd" style="left:2px;top:565.7px;width:110.5px;height:16.3px;line-height:18.6px;background:#fabf8f">September-15-20</div>
<div class="abs cc dc" style="left:113.4px;top:566.3px;width:60.5px;height:15.6px;line-height:18.2px;padding-right:2.8px;background:#91b1d9">27,471</div>
<div class="abs cc dc" style="left:174.9px;top:566.3px;width:59.5px;height:15.6px;line-height:18.2px;padding-right:2.8px;background:#fcecef">50,360</div>
<div class="abs cc dc" style="left:235.4px;top:566.3px;width:59.5px;height:15.6px;line-height:18.2px;padding-right:2.4px;background:#dce6f4">77,831</div>
<div class="abs cc dc" style="left:295.9px;top:566.3px;width:59.5px;height:15.6px;line-height:18.2px;padding-left:3.2px;background:#e4c7d7">35%</div>
<div class="abs cc dc" style="left:356.4px;top:566.3px;width:55px;height:15.6px;line-height:18.2px;padding-left:2.4px;background:#e4c7d7">65%</div>
<div class="abs cc dc neg" style="left:412.4px;top:566.3px;width:74.8px;height:15.6px;line-height:18.2px;padding-left:1.2px;background:#fbcdd0">-22,889</div>
<div class="abs" style="left:2px;top:581.5px;width:485px;height:1.3px;background:#2e2c2c"></div>
<div class="abs dc dd" style="left:2px;top:582.7px;width:110.5px;height:16.3px;line-height:18.6px;background:#fcd5b4">September-08-20</div>
<div class="abs cc dc" style="left:113.4px;top:583.3px;width:60.5px;height:15.6px;line-height:18.2px;padding-right:2.8px;background:#83a7d4">23,108</div>
<div class="abs cc dc" style="left:174.9px;top:583.3px;width:59.5px;height:15.6px;line-height:18.2px;padding-right:2.8px;background:#fcfafd">44,850</div>
<div class="abs cc dc" style="left:235.4px;top:583.3px;width:59.5px;height:15.6px;line-height:18.2px;padding-right:2.4px;background:#ccdaee">67,958</div>
<div class="abs cc dc" style="left:295.9px;top:583.3px;width:59.5px;height:15.6px;line-height:18.2px;padding-left:3.2px;background:#e5c7d6">34%</div>
<div class="abs cc dc" style="left:356.4px;top:583.3px;width:55px;height:15.6px;line-height:18.2px;padding-left:2.4px;background:#e5c7d6">66%</div>
<div class="abs cc dc neg" style="left:412.4px;top:583.3px;width:74.8px;height:15.6px;line-height:18.2px;padding-left:1.2px;background:#fbd0d2">-21,742</div>
<div class="abs" style="left:2px;top:598.5px;width:485px;height:1.3px;background:#2e2c2c"></div>
<div class="abs dc dd" style="left:2px;top:599.7px;width:110.5px;height:16.3px;line-height:18.6px;background:#fcd5b4">September-01-20</div>
<div class="abs cc dc" style="left:113.4px;top:600.3px;width:60.5px;height:15.6px;line-height:18.2px;padding-right:2.8px;background:#6f99cd">17,050</div>
<div class="abs cc dc" style="left:174.9px;top:600.3px;width:59.5px;height:15.6px;line-height:18.2px;padding-right:2.8px;background:#fcf5f8">46,654</div>
<div class="abs cc dc" style="left:235.4px;top:600.3px;width:59.5px;height:15.6px;line-height:18.2px;padding-right:2.4px;background:#c5d5ec">63,704</div>
<div class="abs cc dc" style="left:295.9px;top:600.3px;width:59.5px;height:15.6px;line-height:18.2px;padding-left:3.2px;background:#efc5d2">27%</div>
<div class="abs cc dc" style="left:356.4px;top:600.3px;width:55px;height:15.6px;line-height:18.2px;padding-left:2.4px;background:#efc5d2">73%</div>
<div class="abs cc dc neg" style="left:412.4px;top:600.3px;width:74.8px;height:15.6px;line-height:18.2px;padding-left:1.2px;background:#fabfc2">-29,604</div>
<div class="abs" style="left:2px;top:615.5px;width:485px;height:1.3px;background:#2e2c2c"></div>
<div class="abs dc dd" style="left:2px;top:616.7px;width:110.5px;height:16.3px;line-height:18.6px;background:#fcd5b4">August-25-20</div>
<div class="abs cc dc" style="left:113.4px;top:617.3px;width:60.5px;height:15.6px;line-height:18.2px;padding-right:2.8px;background:#7da3d2">21,362</div>
<div class="abs cc dc" style="left:174.9px;top:617.3px;width:59.5px;height:15.6px;line-height:18.2px;padding-right:2.8px;background:#fcfafd">44,978</div>
<div class="abs cc dc" style="left:235.4px;top:617.3px;width:59.5px;height:15.6px;line-height:18.2px;padding-right:2.4px;background:#c9d8ed">66,340</div>
<div class="abs cc dc" style="left:295.9px;top:617.3px;width:59.5px;height:15.6px;line-height:18.2px;padding-left:3.2px;background:#e8c7d5">32%</div>
<div class="abs cc dc" style="left:356.4px;top:617.3px;width:55px;height:15.6px;line-height:18.2px;padding-left:2.4px;background:#e8c7d5">68%</div>
<div class="abs cc dc neg" style="left:412.4px;top:617.3px;width:74.8px;height:15.6px;line-height:18.2px;padding-left:1.2px;background:#fbccce">-23,616</div>
<div class="abs" style="left:2px;top:632.5px;width:485px;height:1.3px;background:#2e2c2c"></div>
<div class="abs" style="left:112.05px;top:89.5px;width:1.2px;height:545px;background:#1c1c1c"></div>
<div class="abs" style="left:173.75px;top:89.5px;width:1.2px;height:545px;background:#1c1c1c"></div>
<div class="abs" style="left:234.25px;top:89.5px;width:1.2px;height:545px;background:#1c1c1c"></div>
<div class="abs" style="left:294.75px;top:89.5px;width:1.2px;height:545px;background:#1c1c1c"></div>
<div class="abs" style="left:355.25px;top:89.5px;width:1.2px;height:545px;background:#1c1c1c"></div>
<div class="abs" style="left:411.25px;top:89.5px;width:1.2px;height:545px;background:#1c1c1c"></div>
<div class="abs" style="left:487px;top:1px;width:2px;height:633px;background:#000"></div>
</div>
<svg class="abs" style="left:491px;top:1px" width="486" height="316" viewBox="491 1 486 316">
<rect x="491" y="1" width="486" height="316" fill="#fefde9"/>
<defs><clipPath id="cpT"><rect x="491" y="1" width="436.4" height="293.6"/></clipPath></defs>
<g clip-path="url(#cpT)">
<rect x="491" y="237.2" width="437" height="58" fill="#e1edca"/>
<line x1="491" y1="237.2" x2="928" y2="237.2" stroke="#7db865" stroke-width="1.2"/>
<rect x="616.8" y="60" width="311" height="31.3" fill="#fbebdb"/>
<line x1="616.8" y1="60" x2="928" y2="60" stroke="#f08c8c" stroke-width="1.3"/>
<line x1="616.8" y1="91.3" x2="928" y2="91.3" stroke="#f08c8c" stroke-width="1.3"/>
<rect x="578.5" y="18.6" width="61.2" height="43.1" fill="#fff1c4" fill-opacity="0.48" stroke="#cfd1dc" stroke-width="0.9"/>
<rect x="562.9" y="71.4" width="23.7" height="40" fill="#fff1c4" fill-opacity="0.48" stroke="#cfd1dc" stroke-width="0.9"/>
<rect x="524.7" y="172.6" width="130.4" height="40.2" fill="#fff1c4" fill-opacity="0.48" stroke="#cfd1dc" stroke-width="0.9"/>
<line x1="578.7" y1="18.6" x2="930" y2="227.272" stroke="#a9765a" stroke-width="1.1"/>
<line x1="489" y1="9.3" x2="568" y2="86.2" stroke="#e5605f" stroke-width="1.15"/>
<path d="M565 89.2 L570.6 87.9 M568.2 85.4 L570.8 87.8 L568.7 90.6" fill="none" stroke="#ee7f78" stroke-width="1"/>
<line x1="494.06" y1="14.3" x2="494.06" y2="91" stroke="#8a8984" stroke-width="1.2"/><rect x="491.76" y="35.7" width="4.6" height="21.9" fill="#e4513d" stroke="#9c241d" stroke-width="0.9"/>
<line x1="501.73" y1="34.3" x2="501.73" y2="79.6" stroke="#8a8984" stroke-width="1.2"/><rect x="499.43" y="55" width="4.6" height="2.6" fill="#6fa686" stroke="#2f7050" stroke-width="0.9"/>
<line x1="509.4" y1="41.4" x2="509.4" y2="141" stroke="#8a8984" stroke-width="1.2"/><rect x="507.1" y="55.3" width="4.6" height="67.8" fill="#e4513d" stroke="#9c241d" stroke-width="0.9"/>
<line x1="517.07" y1="97.9" x2="517.07" y2="194.3" stroke="#8a8984" stroke-width="1.2"/><rect x="514.77" y="123.1" width="4.6" height="49.5" fill="#e4513d" stroke="#9c241d" stroke-width="0.9"/>
<line x1="524.74" y1="160" x2="524.74" y2="212.9" stroke="#8a8984" stroke-width="1.2"/><rect x="522.44" y="172.6" width="4.6" height="7.8" fill="#e4513d" stroke="#9c241d" stroke-width="0.9"/>
<line x1="532.41" y1="115.7" x2="532.41" y2="191.7" stroke="#8a8984" stroke-width="1.2"/><rect x="530.11" y="121.4" width="4.6" height="59" fill="#6fa686" stroke="#2f7050" stroke-width="0.9"/>
<line x1="540.08" y1="80" x2="540.08" y2="144.3" stroke="#8a8984" stroke-width="1.2"/><rect x="537.78" y="121.4" width="4.6" height="10" fill="#e4513d" stroke="#9c241d" stroke-width="0.9"/>
<line x1="547.75" y1="89" x2="547.75" y2="132" stroke="#8a8984" stroke-width="1.2"/><rect x="545.45" y="94" width="4.6" height="37.4" fill="#6fa686" stroke="#2f7050" stroke-width="0.9"/>
<line x1="555.42" y1="45" x2="555.42" y2="102.4" stroke="#8a8984" stroke-width="1.2"/><rect x="553.12" y="71.1" width="4.6" height="22" fill="#6fa686" stroke="#2f7050" stroke-width="0.9"/>
<line x1="563.09" y1="64.6" x2="563.09" y2="111.4" stroke="#8a8984" stroke-width="1.2"/><rect x="560.79" y="71.1" width="4.6" height="16.3" fill="#e4513d" stroke="#9c241d" stroke-width="0.9"/>
<line x1="570.76" y1="35.2" x2="570.76" y2="99.7" stroke="#8a8984" stroke-width="1.2"/><rect x="568.46" y="35.7" width="4.6" height="50.7" fill="#6fa686" stroke="#2f7050" stroke-width="0.9"/>
<line x1="578.43" y1="18.6" x2="578.43" y2="80.7" stroke="#8a8984" stroke-width="1.2"/><rect x="576.13" y="35.7" width="4.6" height="14.6" fill="#e4513d" stroke="#9c241d" stroke-width="0.9"/>
<line x1="586.1" y1="32.1" x2="586.1" y2="62.4" stroke="#8a8984" stroke-width="1.2"/><rect x="583.8" y="38.6" width="4.6" height="11.7" fill="#6fa686" stroke="#2f7050" stroke-width="0.9"/>
<line x1="593.77" y1="32.6" x2="593.77" y2="115.7" stroke="#8a8984" stroke-width="1.2"/><rect x="591.47" y="38.1" width="4.6" height="76.2" fill="#e4513d" stroke="#9c241d" stroke-width="0.9"/>
<line x1="601.44" y1="106.7" x2="601.44" y2="208.9" stroke="#8a8984" stroke-width="1.2"/><rect x="599.14" y="113.3" width="4.6" height="16.3" fill="#e4513d" stroke="#9c241d" stroke-width="0.9"/>
<line x1="609.11" y1="77.1" x2="609.11" y2="132.1" stroke="#8a8984" stroke-width="1.2"/><rect x="606.81" y="80.3" width="4.6" height="49.3" fill="#6fa686" stroke="#2f7050" stroke-width="0.9"/>
<line x1="616.78" y1="65" x2="616.78" y2="112.4" stroke="#8a8984" stroke-width="1.2"/><rect x="614.48" y="80.3" width="4.6" height="11.1" fill="#e4513d" stroke="#9c241d" stroke-width="0.9"/>
<line x1="624.45" y1="60.3" x2="624.45" y2="92.9" stroke="#8a8984" stroke-width="1.2"/><rect x="622.15" y="79.3" width="4.6" height="11.7" fill="#6fa686" stroke="#2f7050" stroke-width="0.9"/>
<line x1="632.12" y1="73.6" x2="632.12" y2="141" stroke="#8a8984" stroke-width="1.2"/><rect x="629.82" y="79.3" width="4.6" height="61.4" fill="#e4513d" stroke="#9c241d" stroke-width="0.9"/>
<line x1="639.79" y1="130" x2="639.79" y2="170.3" stroke="#8a8984" stroke-width="1.2"/><rect x="637.49" y="139.3" width="4.6" height="10.4" fill="#e4513d" stroke="#9c241d" stroke-width="0.9"/>
<line x1="647.46" y1="126.1" x2="647.46" y2="162.1" stroke="#8a8984" stroke-width="1.2"/><rect x="645.16" y="131.4" width="4.6" height="12.9" fill="#6fa686" stroke="#2f7050" stroke-width="0.9"/>
<line x1="655.13" y1="120.3" x2="655.13" y2="215.4" stroke="#8a8984" stroke-width="1.2"/><rect x="652.83" y="131.4" width="4.6" height="48.3" fill="#e4513d" stroke="#9c241d" stroke-width="0.9"/>
<line x1="662.8" y1="136.7" x2="662.8" y2="190.5" stroke="#8a8984" stroke-width="1.2"/><rect x="660.5" y="144.7" width="4.6" height="35" fill="#6fa686" stroke="#2f7050" stroke-width="0.9"/>
<line x1="670.47" y1="121.1" x2="670.47" y2="176" stroke="#8a8984" stroke-width="1.2"/><rect x="668.17" y="144.7" width="4.6" height="1.2" fill="#e4513d" stroke="#9c241d" stroke-width="0.9"/>
<line x1="678.14" y1="113.1" x2="678.14" y2="148.6" stroke="#8a8984" stroke-width="1.2"/><rect x="675.84" y="117.1" width="4.6" height="28.6" fill="#6fa686" stroke="#2f7050" stroke-width="0.9"/>
<line x1="685.81" y1="112.1" x2="685.81" y2="138.6" stroke="#8a8984" stroke-width="1.2"/><rect x="683.51" y="118.1" width="4.6" height="16.5" fill="#e4513d" stroke="#9c241d" stroke-width="0.9"/>
<line x1="693.48" y1="101.1" x2="693.48" y2="153.1" stroke="#8a8984" stroke-width="1.2"/><rect x="691.18" y="134.6" width="4.6" height="5.7" fill="#e4513d" stroke="#9c241d" stroke-width="0.9"/>
<line x1="701.15" y1="119.3" x2="701.15" y2="155.7" stroke="#8a8984" stroke-width="1.2"/><rect x="698.85" y="140" width="4.6" height="5" fill="#e4513d" stroke="#9c241d" stroke-width="0.9"/>
<line x1="708.82" y1="119.3" x2="708.82" y2="177.9" stroke="#8a8984" stroke-width="1.2"/><rect x="706.52" y="145" width="4.6" height="10.7" fill="#e4513d" stroke="#9c241d" stroke-width="0.9"/>
<line x1="716.49" y1="119.3" x2="716.49" y2="177.9" stroke="#8a8984" stroke-width="1.2"/><rect x="714.19" y="155.4" width="4.6" height="8.2" fill="#e4513d" stroke="#9c241d" stroke-width="0.9"/>
<line x1="724.16" y1="143.9" x2="724.16" y2="185.6" stroke="#8a8984" stroke-width="1.2"/><rect x="721.86" y="150.4" width="4.6" height="12.2" fill="#6fa686" stroke="#2f7050" stroke-width="0.9"/>
<line x1="731.83" y1="110" x2="731.83" y2="184" stroke="#8a8984" stroke-width="1.2"/><rect x="729.53" y="147.4" width="4.6" height="5" fill="#6fa686" stroke="#2f7050" stroke-width="0.9"/>
<line x1="739.5" y1="143.1" x2="739.5" y2="220.7" stroke="#8a8984" stroke-width="1.2"/><rect x="737.2" y="147.4" width="4.6" height="39.7" fill="#e4513d" stroke="#9c241d" stroke-width="0.9"/>
<line x1="747.17" y1="164.3" x2="747.17" y2="202.6" stroke="#8a8984" stroke-width="1.2"/><rect x="744.87" y="187.6" width="4.6" height="1.2" fill="#6fa686" stroke="#2f7050" stroke-width="0.9"/>
<line x1="754.84" y1="173.8" x2="754.84" y2="224.3" stroke="#8a8984" stroke-width="1.2"/><rect x="752.54" y="187.1" width="4.6" height="8.7" fill="#e4513d" stroke="#9c241d" stroke-width="0.9"/>
<line x1="762.51" y1="182.9" x2="762.51" y2="223.6" stroke="#8a8984" stroke-width="1.2"/><rect x="760.21" y="196" width="4.6" height="15.4" fill="#e4513d" stroke="#9c241d" stroke-width="0.9"/>
<line x1="770.18" y1="191.7" x2="770.18" y2="240.7" stroke="#8a8984" stroke-width="1.2"/><rect x="767.88" y="209" width="4.6" height="9.6" fill="#e4513d" stroke="#9c241d" stroke-width="0.9"/>
<line x1="777.85" y1="209.6" x2="777.85" y2="246.4" stroke="#8a8984" stroke-width="1.2"/><rect x="775.55" y="218.6" width="4.6" height="21" fill="#e4513d" stroke="#9c241d" stroke-width="0.9"/>
<line x1="785.52" y1="205.4" x2="785.52" y2="251.9" stroke="#8a8984" stroke-width="1.2"/><rect x="783.22" y="211.4" width="4.6" height="28.2" fill="#6fa686" stroke="#2f7050" stroke-width="0.9"/>
<line x1="793.19" y1="171.4" x2="793.19" y2="216.4" stroke="#8a8984" stroke-width="1.2"/><rect x="790.89" y="175" width="4.6" height="36.4" fill="#6fa686" stroke="#2f7050" stroke-width="0.9"/>
<line x1="800.86" y1="87.9" x2="800.86" y2="178.6" stroke="#8a8984" stroke-width="1.2"/><rect x="798.56" y="93.1" width="4.6" height="81.2" fill="#6fa686" stroke="#2f7050" stroke-width="0.9"/>
<line x1="808.53" y1="90.4" x2="808.53" y2="99.7" stroke="#8a8984" stroke-width="1.2"/><rect x="806.23" y="93.3" width="4.6" height="2.4" fill="#e4513d" stroke="#9c241d" stroke-width="0.9"/>
<rect x="701.5" y="64" width="15.1" height="55.3" fill="#fefde9" stroke="none"/>
<rect x="701.5" y="64" width="15.1" height="27.3" fill="#fbebdb" stroke="none"/>
<line x1="700" y1="91.3" x2="718" y2="91.3" stroke="#f08c8c" stroke-width="1.3"/>
<rect x="701.5" y="64" width="15.1" height="55.3" fill="none" stroke="#cfd1dc" stroke-width="0.9"/>
<rect x="701.5" y="178" width="15.1" height="105.6" fill="#fefde9" fill-opacity="0.6" stroke="#cfd1dc" stroke-width="0.9"/>
<path d="M726.5 110.6 L731.6 108.6 L729.3 104.2" fill="none" stroke="#a9765a" stroke-width="1"/>
<path d="M681.6 83.3 H690.1 V92.1 H693.8 L685.8 100.8 L677.9 92.1 H681.6 Z" fill="#e8383f"/>
<path d="M663.3 209.6 L671.4 219 H668 V227 H658.7 V219 H655.1 Z" fill="#0e9a88"/>
<text x="685.4" y="78.4" class="ann" text-anchor="middle">a6</text>
<line x1="700" y1="237.2" x2="718" y2="237.2" stroke="#7db865" stroke-width="1.2"/>
<text x="661.8" y="246" class="ann" text-anchor="middle">a5</text>
<text x="901.8" y="63.2" class="lvl" fill="#e46a72" stroke="#e46a72" text-anchor="middle">(112.401)</text>
<text x="901.8" y="94.5" class="lvl" fill="#e46a72" stroke="#e46a72" text-anchor="middle">(110.820)</text>
<text x="901.8" y="240.4" class="lvl" fill="#74b05c" stroke="#74b05c" text-anchor="middle">(103.350)</text>
</g>
<text x="498.7" y="17.4" class="ttl1" fill="#4b6d1f" textLength="97.2" lengthAdjust="spacingAndGlyphs">USDJPY · 1M · IDC</text>
<circle cx="615.6" cy="12.6" r="6.3" fill="#0e9a88" fill-opacity="0.2"/><circle cx="615.6" cy="12.6" r="3" fill="#0e9a88"/>
<text x="498.3" y="32.6" class="ohlc" textLength="45" lengthAdjust="spacingAndGlyphs"><tspan fill="#4b6d1f" stroke="#4b6d1f">O</tspan><tspan fill="#6b2f3a" stroke="#6b2f3a">110.714</tspan></text><text x="548.9" y="32.6" class="ohlc" textLength="45" lengthAdjust="spacingAndGlyphs"><tspan fill="#4b6d1f" stroke="#4b6d1f">H</tspan><tspan fill="#6b2f3a" stroke="#6b2f3a">110.847</tspan></text><text x="599.8" y="32.6" class="ohlc" textLength="45" lengthAdjust="spacingAndGlyphs"><tspan fill="#4b6d1f" stroke="#4b6d1f">L</tspan><tspan fill="#6b2f3a" stroke="#6b2f3a">110.375</tspan></text><text x="649.6" y="32.6" class="ohlc" textLength="45" lengthAdjust="spacingAndGlyphs"><tspan fill="#4b6d1f" stroke="#4b6d1f">C</tspan><tspan fill="#6b2f3a" stroke="#6b2f3a">110.613</tspan></text>
<path d="M848.9 11.2 a9.7 9.7 0 0 1 19.4 0 c0 6.5 -6 11 -9.7 15.5 c-3.7 -4.5 -9.7 -9 -9.7 -15.5z" fill="#f07d14"/><circle cx="858.6" cy="11.1" r="6.05" fill="#fefde9"/>
<path d="M876.3 12.1 a9.7 9.7 0 0 1 19.4 0 c0 6.5 -6 11 -9.7 15.5 c-3.7 -4.5 -9.7 -9 -9.7 -15.5z" fill="#965431"/><circle cx="886" cy="12" r="6.05" fill="#fefde9"/>
<path d="M903.2 12.8 a9.7 9.7 0 0 1 19.4 0 c0 6.5 -6 11 -9.7 15.5 c-3.7 -4.5 -9.7 -9 -9.7 -15.5z" fill="#1f5e1e"/><circle cx="912.9" cy="12.7" r="6.05" fill="#fefde9"/>
<line x1="927.5" y1="1" x2="927.5" y2="317" stroke="#4b7337" stroke-width="1.2"/>
<line x1="491" y1="294.6" x2="976" y2="294.6" stroke="#4b7337" stroke-width="1.1"/>
<path d="M928.4 17.4 L933.6 13.4 V21.4 Z" fill="#f5870f"/>
<line x1="928" y1="29" x2="931.5" y2="29" stroke="#4b7337" stroke-width="1"/>
<text x="936.2" y="32.2" class="axl" fill="#4a7035">114.000</text>
<line x1="928" y1="67.9" x2="931.5" y2="67.9" stroke="#4b7337" stroke-width="1"/>
<text x="936.2" y="71.1" class="axl" fill="#4a7035">112.000</text>
<line x1="928" y1="145.7" x2="931.5" y2="145.7" stroke="#4b7337" stroke-width="1"/>
<text x="936.2" y="148.9" class="axl" fill="#4a7035">108.000</text>
<line x1="928" y1="184.6" x2="931.5" y2="184.6" stroke="#4b7337" stroke-width="1"/>
<text x="936.2" y="187.8" class="axl" fill="#4a7035">106.000</text>
<line x1="928" y1="223.5" x2="931.5" y2="223.5" stroke="#4b7337" stroke-width="1"/>
<text x="936.2" y="226.7" class="axl" fill="#4a7035">104.000</text>
<line x1="928" y1="262.4" x2="931.5" y2="262.4" stroke="#4b7337" stroke-width="1"/>
<text x="936.2" y="265.6" class="axl" fill="#4a7035">102.000</text>
<path d="M927.6 89.1 H970 a2.7 2.7 0 0 1 2.7 2.7 V110.2 a2.7 2.7 0 0 1 -2.7 2.7 H927.6 Z" fill="#e0513f"/>
<line x1="928" y1="95.9" x2="931.5" y2="95.9" stroke="#fff" stroke-width="1"/>
<text x="936.2" y="99.1" class="axl" fill="#fff">110.613</text>
<text x="936.2" y="109" class="axl2" fill="#fbe4e0">28d 2h</text>
<line x1="509.4" y1="295" x2="509.4" y2="298" stroke="#4b7337" stroke-width="1"/>
<text x="509.4" y="309.3" class="tlb" fill="#3d6b2a" text-anchor="middle">2018</text>
<line x1="601.44" y1="295" x2="601.44" y2="298" stroke="#4b7337" stroke-width="1"/>
<text x="601.44" y="309.3" class="tlb" fill="#3d6b2a" text-anchor="middle">2019</text>
<line x1="693.48" y1="295" x2="693.48" y2="298" stroke="#4b7337" stroke-width="1"/>
<text x="693.48" y="309.3" class="tlb" fill="#3d6b2a" text-anchor="middle">2020</text>
<line x1="785.52" y1="295" x2="785.52" y2="298" stroke="#4b7337" stroke-width="1"/>
<text x="785.52" y="309.3" class="tlb" fill="#3d6b2a" text-anchor="middle">2021</text>
<line x1="877.56" y1="295" x2="877.56" y2="298" stroke="#4b7337" stroke-width="1"/>
<text x="877.56" y="309.3" class="tlb" fill="#3d6b2a" text-anchor="middle">2022</text>
</svg>
<div class="abs" style="left:490px;top:316.6px;width:487px;height:1.8px;background:#dfe2ee"></div>
<svg class="abs" style="left:491px;top:318px" width="486" height="316" viewBox="491 318 486 316">
<rect x="491" y="318" width="486" height="316" fill="#fefde9"/>
<defs><clipPath id="cpB"><rect x="491" y="318" width="433.4" height="295.3"/></clipPath></defs>
<g clip-path="url(#cpB)">
<rect x="491" y="318" width="434" height="20" fill="#fbebdb"/>
<line x1="491" y1="338.1" x2="925" y2="338.1" stroke="#c4262e" stroke-width="1.6"/>
<rect x="491" y="531.7" width="434" height="68" fill="#eef4d9"/>
<line x1="491" y1="531.7" x2="925" y2="531.7" stroke="#8fc279" stroke-width="1.2"/>
<line x1="491" y1="599.6" x2="925" y2="599.6" stroke="#8fc279" stroke-width="1.2"/>
<line x1="491" y1="573.9" x2="925" y2="573.9" stroke="#7bb35f" stroke-width="1.5"/>
<rect x="752.1" y="510" width="174" height="30.6" fill="#d3e5b8" fill-opacity="0.6" stroke="#8fc279" stroke-width="1.1"/>
<line x1="491" y1="371.5" x2="925" y2="468.239" stroke="#a9765a" stroke-width="1.1"/>
<line x1="490.31" y1="445" x2="490.31" y2="470" stroke="#8a8984" stroke-width="1.2"/><rect x="488.01" y="450.7" width="4.6" height="12.4" fill="#e4513d" stroke="#9c241d" stroke-width="0.9"/>
<line x1="498" y1="444.3" x2="498" y2="488.3" stroke="#8a8984" stroke-width="1.2"/><rect x="495.7" y="452.1" width="4.6" height="11.9" fill="#6fa686" stroke="#2f7050" stroke-width="0.9"/>
<line x1="505.69" y1="421.4" x2="505.69" y2="457.6" stroke="#8a8984" stroke-width="1.2"/><rect x="503.39" y="443.1" width="4.6" height="9.5" fill="#6fa686" stroke="#2f7050" stroke-width="0.9"/>
<line x1="513.38" y1="433.6" x2="513.38" y2="470.7" stroke="#8a8984" stroke-width="1.2"/><rect x="511.08" y="447.4" width="4.6" height="14" fill="#e4513d" stroke="#9c241d" stroke-width="0.9"/>
<line x1="521.07" y1="445" x2="521.07" y2="475.6" stroke="#8a8984" stroke-width="1.2"/><rect x="518.77" y="458.1" width="4.6" height="17.3" fill="#6fa686" stroke="#2f7050" stroke-width="0.9"/>
<line x1="528.76" y1="441.7" x2="528.76" y2="500.4" stroke="#8a8984" stroke-width="1.2"/><rect x="526.46" y="459.6" width="4.6" height="26.8" fill="#e4513d" stroke="#9c241d" stroke-width="0.9"/>
<line x1="536.45" y1="486.4" x2="536.45" y2="548.3" stroke="#8a8984" stroke-width="1.2"/><rect x="534.15" y="488.6" width="4.6" height="4.4" fill="#e4513d" stroke="#9c241d" stroke-width="0.9"/>
<line x1="544.14" y1="475.7" x2="544.14" y2="512.6" stroke="#8a8984" stroke-width="1.2"/><rect x="541.84" y="494.2" width="4.6" height="1.3" fill="#6fa686" stroke="#2f7050" stroke-width="0.9"/>
<line x1="551.83" y1="457.1" x2="551.83" y2="499.6" stroke="#8a8984" stroke-width="1.2"/><rect x="549.53" y="472.4" width="4.6" height="22.1" fill="#6fa686" stroke="#2f7050" stroke-width="0.9"/>
<line x1="559.52" y1="469.3" x2="559.52" y2="518.9" stroke="#8a8984" stroke-width="1.2"/><rect x="557.22" y="472.4" width="4.6" height="23.9" fill="#e4513d" stroke="#9c241d" stroke-width="0.9"/>
<line x1="567.21" y1="460.3" x2="567.21" y2="515.7" stroke="#8a8984" stroke-width="1.2"/><rect x="564.91" y="498.6" width="4.6" height="12.8" fill="#e4513d" stroke="#9c241d" stroke-width="0.9"/>
<line x1="574.9" y1="472.4" x2="574.9" y2="512.6" stroke="#8a8984" stroke-width="1.2"/><rect x="572.6" y="483.1" width="4.6" height="26.2" fill="#6fa686" stroke="#2f7050" stroke-width="0.9"/>
<line x1="582.59" y1="478.3" x2="582.59" y2="496.9" stroke="#8a8984" stroke-width="1.2"/><rect x="580.29" y="484.5" width="4.6" height="1.2" fill="#e4513d" stroke="#9c241d" stroke-width="0.9"/>
<line x1="590.28" y1="484.4" x2="590.28" y2="545" stroke="#8a8984" stroke-width="1.2"/><rect x="587.98" y="488.8" width="4.6" height="47.6" fill="#e4513d" stroke="#9c241d" stroke-width="0.9"/>
<line x1="597.97" y1="500" x2="597.97" y2="554" stroke="#8a8984" stroke-width="1.2"/><rect x="595.67" y="504.3" width="4.6" height="33.1" fill="#6fa686" stroke="#2f7050" stroke-width="0.9"/>
<line x1="605.66" y1="496" x2="605.66" y2="523.9" stroke="#8a8984" stroke-width="1.2"/><rect x="603.36" y="506" width="4.6" height="5.4" fill="#e4513d" stroke="#9c241d" stroke-width="0.9"/>
<line x1="613.35" y1="486.9" x2="613.35" y2="514.2" stroke="#8a8984" stroke-width="1.2"/><rect x="611.05" y="503.3" width="4.6" height="10.7" fill="#6fa686" stroke="#2f7050" stroke-width="0.9"/>
<line x1="621.04" y1="496" x2="621.04" y2="520.5" stroke="#8a8984" stroke-width="1.2"/><rect x="618.74" y="497.6" width="4.6" height="12.1" fill="#e4513d" stroke="#9c241d" stroke-width="0.9"/>
<line x1="628.73" y1="498.3" x2="628.73" y2="543.3" stroke="#8a8984" stroke-width="1.2"/><rect x="626.43" y="510.6" width="4.6" height="20.8" fill="#e4513d" stroke="#9c241d" stroke-width="0.9"/>
<line x1="636.42" y1="520.3" x2="636.42" y2="552.9" stroke="#8a8984" stroke-width="1.2"/><rect x="634.12" y="531.5" width="4.6" height="1.2" fill="#6fa686" stroke="#2f7050" stroke-width="0.9"/>
<line x1="644.11" y1="510.7" x2="644.11" y2="579.7" stroke="#8a8984" stroke-width="1.2"/><rect x="641.81" y="529.3" width="4.6" height="46.1" fill="#e4513d" stroke="#9c241d" stroke-width="0.9"/>
<line x1="651.8" y1="501" x2="651.8" y2="578.9" stroke="#8a8984" stroke-width="1.2"/><rect x="649.5" y="535" width="4.6" height="39.3" fill="#6fa686" stroke="#2f7050" stroke-width="0.9"/>
<line x1="659.49" y1="517.9" x2="659.49" y2="564.3" stroke="#8a8984" stroke-width="1.2"/><rect x="657.19" y="535" width="4.6" height="24.3" fill="#e4513d" stroke="#9c241d" stroke-width="0.9"/>
<line x1="667.18" y1="529" x2="667.18" y2="564.3" stroke="#8a8984" stroke-width="1.2"/><rect x="664.88" y="551.3" width="4.6" height="8" fill="#6fa686" stroke="#2f7050" stroke-width="0.9"/>
<line x1="674.87" y1="530" x2="674.87" y2="564.3" stroke="#8a8984" stroke-width="1.2"/><rect x="672.57" y="548.5" width="4.6" height="5.8" fill="#6fa686" stroke="#2f7050" stroke-width="0.9"/>
<line x1="682.56" y1="535" x2="682.56" y2="559.3" stroke="#8a8984" stroke-width="1.2"/><rect x="680.26" y="548.6" width="4.6" height="4" fill="#e4513d" stroke="#9c241d" stroke-width="0.9"/>
<line x1="690.25" y1="548.6" x2="690.25" y2="589.3" stroke="#8a8984" stroke-width="1.2"/><rect x="687.95" y="552.1" width="4.6" height="23.3" fill="#e4513d" stroke="#9c241d" stroke-width="0.9"/>
<line x1="697.94" y1="556.4" x2="697.94" y2="576.6" stroke="#8a8984" stroke-width="1.2"/><rect x="695.64" y="567.4" width="4.6" height="9" fill="#6fa686" stroke="#2f7050" stroke-width="0.9"/>
<line x1="705.63" y1="556.4" x2="705.63" y2="586.1" stroke="#8a8984" stroke-width="1.2"/><rect x="703.33" y="567.4" width="4.6" height="11.2" fill="#e4513d" stroke="#9c241d" stroke-width="0.9"/>
<line x1="713.32" y1="550" x2="713.32" y2="598.6" stroke="#8a8984" stroke-width="1.2"/><rect x="711.02" y="556.7" width="4.6" height="21.9" fill="#6fa686" stroke="#2f7050" stroke-width="0.9"/>
<line x1="721.01" y1="540.3" x2="721.01" y2="568.3" stroke="#8a8984" stroke-width="1.2"/><rect x="718.71" y="555.4" width="4.6" height="4.9" fill="#e4513d" stroke="#9c241d" stroke-width="0.9"/>
<line x1="728.7" y1="551" x2="728.7" y2="574.6" stroke="#8a8984" stroke-width="1.2"/><rect x="726.4" y="560" width="4.6" height="1.2" fill="#e4513d" stroke="#9c241d" stroke-width="0.9"/>
<line x1="736.39" y1="523.3" x2="736.39" y2="567.6" stroke="#8a8984" stroke-width="1.2"/><rect x="734.09" y="532.3" width="4.6" height="28.4" fill="#6fa686" stroke="#2f7050" stroke-width="0.9"/>
<line x1="744.08" y1="497.6" x2="744.08" y2="534" stroke="#8a8984" stroke-width="1.2"/><rect x="741.78" y="510" width="4.6" height="23.2" fill="#6fa686" stroke="#2f7050" stroke-width="0.9"/>
<line x1="751.77" y1="501" x2="751.77" y2="540.7" stroke="#8a8984" stroke-width="1.2"/><rect x="749.47" y="510" width="4.6" height="14.5" fill="#e4513d" stroke="#9c241d" stroke-width="0.9"/>
<line x1="759.46" y1="482.9" x2="759.46" y2="524.8" stroke="#8a8984" stroke-width="1.2"/><rect x="757.16" y="510" width="4.6" height="14.6" fill="#6fa686" stroke="#2f7050" stroke-width="0.9"/>
<line x1="767.15" y1="468.3" x2="767.15" y2="524.6" stroke="#8a8984" stroke-width="1.2"/><rect x="764.85" y="473.3" width="4.6" height="36.3" fill="#6fa686" stroke="#2f7050" stroke-width="0.9"/>
<line x1="774.84" y1="407.1" x2="774.84" y2="479.3" stroke="#8a8984" stroke-width="1.2"/><rect x="772.54" y="419.3" width="4.6" height="53.2" fill="#6fa686" stroke="#2f7050" stroke-width="0.9"/>
<line x1="782.53" y1="388.1" x2="782.53" y2="418.6" stroke="#8a8984" stroke-width="1.2"/><rect x="780.23" y="396.4" width="4.6" height="20.3" fill="#6fa686" stroke="#2f7050" stroke-width="0.9"/>
<line x1="790.22" y1="384" x2="790.22" y2="407.9" stroke="#8a8984" stroke-width="1.2"/><rect x="787.92" y="395.1" width="4.6" height="4.1" fill="#e4513d" stroke="#9c241d" stroke-width="0.9"/>
<line x1="797.91" y1="369.1" x2="797.91" y2="414.7" stroke="#8a8984" stroke-width="1.2"/><rect x="795.61" y="374.5" width="4.6" height="25.3" fill="#6fa686" stroke="#2f7050" stroke-width="0.9"/>
<line x1="805.6" y1="333" x2="805.6" y2="384" stroke="#8a8984" stroke-width="1.2"/><rect x="803.3" y="344.4" width="4.6" height="30.4" fill="#6fa686" stroke="#2f7050" stroke-width="0.9"/>
<path d="M803.9 393.6 L818.1 394.3 L816 397.6 L880 436.4 L813.6 401.7 L811.4 404.6 Z" fill="#7a3a3e"/>
<text x="898.8" y="513.2" class="lvl" fill="#7fb968" stroke="#7fb968" text-anchor="middle">(105.381)</text>
<text x="898.8" y="534.9" class="lvl" fill="#7fb968" stroke="#7fb968" text-anchor="middle">(104.682)</text>
<text x="898.8" y="543.8" class="lvl" fill="#7fb968" stroke="#7fb968" text-anchor="middle">(104.410)</text>
<text x="898.8" y="602.8" class="lvl" fill="#7fb968" stroke="#7fb968" text-anchor="middle">(102.548)</text>
<text x="880.8" y="335.6" class="lvl" fill="#d2353c" stroke="#d2353c" style="font-size:9.8px" textLength="37.6" lengthAdjust="spacingAndGlyphs">mn prox</text>
<text x="899" y="341.4" class="lvl" fill="#d2353c" stroke="#d2353c" text-anchor="middle">(110.850)</text>
</g>
<rect x="496" y="320.5" width="138" height="18.8" fill="#fefbe6" fill-opacity="0.78"/>
<text x="498.6" y="336.6" class="ttl1" fill="#4b6d1f" textLength="99.3" lengthAdjust="spacingAndGlyphs">USDJPY · 1W · IDC</text>
<circle cx="617.6" cy="331.4" r="6.3" fill="#0e9a88" fill-opacity="0.2"/><circle cx="617.6" cy="331.4" r="3" fill="#0e9a88"/>
<text x="498.3" y="351.8" class="ohlc" textLength="45" lengthAdjust="spacingAndGlyphs"><tspan fill="#4b6d1f" stroke="#4b6d1f">O</tspan><tspan fill="#3e7a55" stroke="#3e7a55">109.668</tspan></text><text x="548.9" y="351.8" class="ohlc" textLength="45" lengthAdjust="spacingAndGlyphs"><tspan fill="#4b6d1f" stroke="#4b6d1f">H</tspan><tspan fill="#3e7a55" stroke="#3e7a55">110.967</tspan></text><text x="599.8" y="351.8" class="ohlc" textLength="45" lengthAdjust="spacingAndGlyphs"><tspan fill="#4b6d1f" stroke="#4b6d1f">L</tspan><tspan fill="#3e7a55" stroke="#3e7a55">109.375</tspan></text><text x="649.6" y="351.8" class="ohlc" textLength="45" lengthAdjust="spacingAndGlyphs"><tspan fill="#4b6d1f" stroke="#4b6d1f">C</tspan><tspan fill="#3e7a55" stroke="#3e7a55">110.613</tspan></text>
<line x1="924.5" y1="318" x2="924.5" y2="634" stroke="#4b7337" stroke-width="1.2"/>
<line x1="491" y1="613.3" x2="976" y2="613.3" stroke="#4b7337" stroke-width="1.1"/>
<line x1="925" y1="584.8" x2="928.5" y2="584.8" stroke="#4b7337" stroke-width="1"/>
<text x="933" y="588" class="axl" fill="#4a7035">103.000</text>
<line x1="925" y1="553.3" x2="928.5" y2="553.3" stroke="#4b7337" stroke-width="1"/>
<text x="933" y="556.5" class="axl" fill="#4a7035">104.000</text>
<line x1="925" y1="521.8" x2="928.5" y2="521.8" stroke="#4b7337" stroke-width="1"/>
<text x="933" y="525" class="axl" fill="#4a7035">105.000</text>
<line x1="925" y1="490.3" x2="928.5" y2="490.3" stroke="#4b7337" stroke-width="1"/>
<text x="933" y="493.5" class="axl" fill="#4a7035">106.000</text>
<line x1="925" y1="458.8" x2="928.5" y2="458.8" stroke="#4b7337" stroke-width="1"/>
<text x="933" y="462" class="axl" fill="#4a7035">107.000</text>
<line x1="925" y1="427.3" x2="928.5" y2="427.3" stroke="#4b7337" stroke-width="1"/>
<text x="933" y="430.5" class="axl" fill="#4a7035">108.000</text>
<line x1="925" y1="395.8" x2="928.5" y2="395.8" stroke="#4b7337" stroke-width="1"/>
<text x="933" y="399" class="axl" fill="#4a7035">109.000</text>
<line x1="925" y1="364.3" x2="928.5" y2="364.3" stroke="#4b7337" stroke-width="1"/>
<text x="933" y="367.5" class="axl" fill="#4a7035">110.000</text>
<line x1="925" y1="332.8" x2="928.5" y2="332.8" stroke="#4b7337" stroke-width="1"/>
<text x="933" y="336" class="axl" fill="#4a7035">111.000</text>
<path d="M924.4 338.2 H970 a2.7 2.7 0 0 1 2.7 2.7 V359.1 a2.7 2.7 0 0 1 -2.7 2.7 H924.4 Z" fill="#64a280"/>
<line x1="925" y1="345" x2="928.5" y2="345" stroke="#fff" stroke-width="1"/>
<text x="933" y="348.2" class="axl" fill="#f0f7f2">110.613</text>
<text x="932" y="358.3" class="axl2" fill="#e4f1e9">01:08:30</text>
<path d="M924.4 525 H966.6 a2.7 2.7 0 0 1 2.7 2.7 V535.7 a2.7 2.7 0 0 1 -2.7 2.7 H924.4 Z" fill="#3b7a1f"/>
<line x1="925" y1="531.7" x2="928.5" y2="531.7" stroke="#fff" stroke-width="1"/>
<text x="933" y="534.9" class="axl" fill="#fff">104.682</text>
<path d="M924.4 567.1 H966.6 a2.7 2.7 0 0 1 2.7 2.7 V577.8 a2.7 2.7 0 0 1 -2.7 2.7 H924.4 Z" fill="#3b7a1f"/>
<line x1="925" y1="573.8" x2="928.5" y2="573.8" stroke="#fff" stroke-width="1"/>
<text x="933" y="577" class="axl" fill="#fff">103.356</text>
<path d="M924.4 593.1 H966.6 a2.7 2.7 0 0 1 2.7 2.7 V603.8 a2.7 2.7 0 0 1 -2.7 2.7 H924.4 Z" fill="#3b7a1f"/>
<line x1="925" y1="599.8" x2="928.5" y2="599.8" stroke="#fff" stroke-width="1"/>
<text x="933" y="603" class="axl" fill="#fff">102.548</text>
<line x1="513.38" y1="613.6" x2="513.38" y2="616.6" stroke="#4b7337" stroke-width="1"/>
<text x="513.38" y="628" class="tlr" fill="#4a7035" text-anchor="middle">Jul</text>
<line x1="582.59" y1="613.6" x2="582.59" y2="616.6" stroke="#4b7337" stroke-width="1"/>
<text x="582.59" y="628" class="tlr" fill="#4a7035" text-anchor="middle">Sep</text>
<line x1="644.11" y1="613.6" x2="644.11" y2="616.6" stroke="#4b7337" stroke-width="1"/>
<text x="644.11" y="628" class="tlr" fill="#4a7035" text-anchor="middle">Nov</text>
<line x1="713.32" y1="613.6" x2="713.32" y2="616.6" stroke="#4b7337" stroke-width="1"/>
<text x="713.32" y="628" class="tlb" fill="#4a7035" text-anchor="middle">2021</text>
<line x1="774.84" y1="613.6" x2="774.84" y2="616.6" stroke="#4b7337" stroke-width="1"/>
<text x="774.84" y="628" class="tlr" fill="#4a7035" text-anchor="middle">Mar</text>
<line x1="844.05" y1="613.6" x2="844.05" y2="616.6" stroke="#4b7337" stroke-width="1"/>
<text x="844.05" y="628" class="tlr" fill="#4a7035" text-anchor="middle">May</text>
<line x1="913.26" y1="613.6" x2="913.26" y2="616.6" stroke="#4b7337" stroke-width="1"/>
<text x="913.26" y="628" class="tlr" fill="#4a7035" text-anchor="middle">Jul</text>
</svg>
<div class="abs" style="left:976.2px;top:0;width:1.5px;height:634px;background:#dcdfee"></div>
<div class="abs" style="left:977.7px;top:0;width:2.3px;height:634px;background:#fff"></div>
</body></html>
